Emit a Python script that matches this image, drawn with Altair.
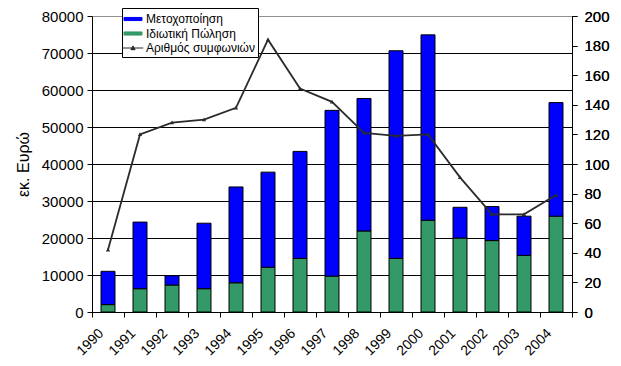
import altair as alt
import pandas as pd

years = [str(y) for y in range(1990, 2005)]
total_value = [11000, 24300, 9800, 24000, 33800, 37800, 43400, 54500,
               57700, 70600, 74900, 28300, 28500, 25900, 56600]
private_sale = [2000, 6300, 7300, 6300, 7900, 12100, 14500, 9700,
                21900, 14500, 24800, 20000, 19300, 15300, 25900]
deals_count = [42, 120, 128, 130, 138, 184, 151, 142,
               121, 119, 120, 91, 66, 66, 79]
series_names = ["Μετοχοποίηση", "Ιδιωτική Πώληση", "Αριθμός συμφωνιών"]
series_colors = ["#0000FF", "#339966", "#2b2b2b"]
left_ticks = list(range(0, 80001, 10000))
right_ticks = list(range(0, 201, 20))

rows = []
for y, t, p in zip(years, total_value, private_sale):
    rows.append({"year": y, "series": series_names[1], "value": p, "ord": 0})
    rows.append({"year": y, "series": series_names[0], "value": t - p, "ord": 1})
bars_df = pd.DataFrame(rows)
line_df = pd.DataFrame({"year": years, "deals": deals_count,
                        "series": [series_names[2]] * len(years)})

rect_path = "M-1.27,-0.22H1.27V0.22H-1.27Z"
line_tri_path = "M-1.45,0H1.45M-0.3,0.24L0,-0.3L0.3,0.24Z"

FONT = "Liberation Sans"
TICK_FS = 15

x_enc = alt.X(
    "year:N",
    scale=alt.Scale(domain=years, paddingInner=0, paddingOuter=0),
    axis=alt.Axis(title=None, labelAngle=-45, labelAlign="right", labelBaseline="top",
                  labelOffset=-12, labelPadding=9, tickBand="extent", tickSize=5,
                  domainColor="black", tickColor="black", labelFontSize=14,
                  labelColor="black", labelFont=FONT),
)

color_enc = alt.Color(
    "series:N",
    scale=alt.Scale(domain=series_names, range=series_colors),
    legend=alt.Legend(title=None, orient="none", legendX=30, legendY=-8,
                      fillColor="white", strokeColor="black", padding=3,
                      labelFontSize=12, labelFont=FONT, labelColor="black",
                      symbolSize=200, symbolStrokeColor="black", symbolStrokeWidth=1,
                      rowPadding=0.5, labelOffset=5, labelLimit=300),
)

bars = alt.Chart(bars_df).mark_bar(size=14, stroke="black", strokeWidth=1).encode(
    x=x_enc,
    y=alt.Y("value:Q", stack="zero",
            scale=alt.Scale(domain=[0, 80000], nice=False),
            axis=alt.Axis(values=left_ticks, format="d", title="εκ. Ευρώ",
                          titleFontSize=16, titleFontWeight="normal", titleFont=FONT,
                          titleColor="black", titlePadding=10,
                          labelFontSize=TICK_FS, labelFont=FONT, labelColor="black",
                          labelPadding=4, tickSize=5, tickColor="black",
                          domainColor="black", grid=True,
                          gridColor={"condition": {"test": "datum.value === 80000",
                                                   "value": "#909090"},
                                     "value": "black"},
                          gridOpacity=1, gridWidth=1)),
    color=color_enc,
    order=alt.Order("ord:Q"),
)

y2 = alt.Y("deals:Q", scale=alt.Scale(domain=[0, 200], nice=False),
           axis=alt.Axis(orient="right", values=right_ticks, title=None, grid=False,
                         labelFontSize=TICK_FS, labelFont=FONT, labelColor="black",
                         labelPadding=7, tickSize=5, tickColor="black",
                         domainColor="black"))

line = alt.Chart(line_df).mark_line(strokeWidth=1.8).encode(
    x=alt.X("year:N"), y=y2, color=alt.Color("series:N"))

points = alt.Chart(line_df).mark_point(filled=True, size=200, opacity=1).encode(
    x=alt.X("year:N"), y=y2, color=alt.Color("series:N"),
    shape=alt.Shape("series:N",
                    scale=alt.Scale(domain=series_names,
                                    range=[rect_path, rect_path, line_tri_path])))

chart = alt.layer(bars, line, points).resolve_scale(y="independent").properties(
    width=480, height=296,
    autosize=alt.AutoSizeParams(type="none"),
    padding={"left": 84, "top": 8, "right": 41, "bottom": 46},
).configure_view(stroke="#909090").configure(font=FONT, background="white")

chart.save("out.html", embed_options={"renderer": "svg", "actions": False})
